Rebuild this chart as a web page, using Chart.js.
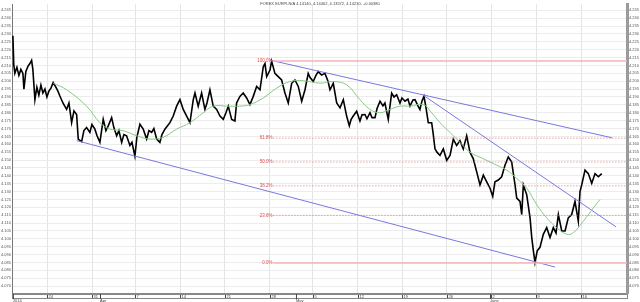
<!DOCTYPE html>
<html lang="en">
<head>
    <meta charset="UTF-8">
    <title>EURPLN Fibonacci</title>
    <script src="https://cdn.jsdelivr.net/npm/chart.js"></script>
    <style>
        body { margin: 0; background: #fff; }
        canvas { display: block; }
    </style>
</head>
<body>
    <canvas id="fxChart" width="640" height="302"></canvas>

    <script>
        // price path, x = trading days from start (18 Mar 2014)
        const days = [0.0,0.1,0.22,0.45,0.67,0.89,1.12,1.23,1.45,1.68,1.9,2.09,2.23,2.46,2.68,2.9,3.13,3.35,3.58,3.8,
            4.02,4.25,4.5,4.8,5.03,5.25,5.59,6.0,6.26,6.56,6.82,7.12,7.3,7.68,7.93,8.23,8.6,8.83,9.16,9.39,
            9.72,10.09,10.39,10.65,11.03,11.28,11.59,11.84,12.15,12.4,12.7,13.07,13.3,13.63,13.85,14.19,14.56,14.94,15.2,15.5,
            15.75,16.06,16.42,16.65,16.98,17.54,17.91,18.29,18.66,19.03,19.41,19.78,20.15,20.34,20.7,21.08,21.45,21.68,22.01,22.38,
            22.76,23.13,23.5,23.8,24.06,24.44,24.8,24.99,25.36,25.73,26.11,26.48,26.85,27.23,27.6,27.97,28.16,28.35,28.72,28.9,
            29.27,29.64,30.02,30.39,30.76,31.14,31.51,31.88,32.26,32.63,32.99,33.18,33.55,33.85,34.11,34.49,34.86,35.2,35.42,35.79,
            36.17,36.54,36.91,37.28,37.58,37.77,38.02,38.4,38.77,39.0,39.33,39.55,39.89,40.11,40.45,40.67,41.01,41.34,41.56,41.93,
            42.31,42.57,42.87,43.24,43.46,43.8,44.13,44.36,44.69,44.92,45.25,45.47,45.7,45.92,46.15,46.4,46.78,46.93,47.15,47.37,
            47.71,48.08,48.46,48.83,49.2,49.57,49.94,50.31,50.69,51.06,51.43,51.81,52.18,52.55,52.93,53.3,53.6,53.85,54.22,54.6,
            54.97,55.34,55.72,56.09,56.28,56.65,56.84,57.02,57.4,57.77,57.96,58.14,58.32,58.58,58.88,59.25,59.63,60.0,60.37,60.67,
            60.93,61.31,61.68,62.04,62.42,62.79,63.16,63.35,63.54,63.91,64.28,64.66,65.03,65.4,65.78];
        const prices = [4.2289,4.2102,4.2050,4.2088,4.2037,4.2075,4.2050,4.1950,4.2062,4.2094,4.2112,4.2133,4.2075,4.1883,4.1962,4.1912,4.1975,4.1925,4.1950,4.1900,
            4.1937,4.1956,4.1992,4.1962,4.1937,4.1906,4.1862,4.1821,4.1862,4.1737,4.1812,4.1789,4.1633,4.1617,4.1687,4.1706,4.1675,4.1725,4.1696,4.1656,
            4.1612,4.1758,4.1687,4.1717,4.1769,4.1706,4.1654,4.1687,4.1612,4.1662,4.1654,4.1592,4.1612,4.1525,4.1644,4.1727,4.1696,4.1633,4.1687,4.1675,
            4.1700,4.1633,4.1612,4.1662,4.1696,4.1737,4.1779,4.1842,4.1883,4.1821,4.1779,4.1737,4.1883,4.1925,4.1842,4.1925,4.1821,4.1862,4.1946,4.1842,
            4.1821,4.1779,4.1758,4.1800,4.1842,4.1758,4.1748,4.1862,4.1904,4.1925,4.1894,4.1852,4.1904,4.1967,4.1946,4.2092,4.2112,4.2029,4.2071,4.2128,
            4.2050,4.2029,4.2008,4.1925,4.1862,4.1987,4.2008,4.1967,4.1873,4.1946,4.2050,4.2025,4.1998,4.2037,4.2061,4.2039,4.2050,4.2000,4.1946,4.1987,
            4.1862,4.1831,4.1883,4.1779,4.1717,4.1756,4.1779,4.1810,4.1748,4.1787,4.1789,4.1762,4.1800,4.1769,4.1769,4.1825,4.1873,4.1844,4.1862,4.1758,
            4.1925,4.1900,4.1914,4.1862,4.1894,4.1873,4.1887,4.1842,4.1881,4.1883,4.1844,4.1821,4.1875,4.1904,4.1831,4.1737,4.1737,4.1675,4.1571,4.1550,
            4.1529,4.1571,4.1498,4.1529,4.1633,4.1592,4.1623,4.1571,4.1654,4.1550,4.1508,4.1425,4.1342,4.1404,4.1362,4.1321,4.1269,4.1362,4.1373,4.1394,
            4.1467,4.1519,4.1487,4.1342,4.1258,4.1237,4.1154,4.1342,4.1279,4.1133,4.1008,4.0925,4.0850,4.0925,4.0946,4.1029,4.1071,4.1008,4.1071,4.1037,
            4.1154,4.1050,4.1050,4.1133,4.1154,4.1237,4.1112,4.1300,4.1342,4.1436,4.1414,4.1352,4.1414,4.1394,4.1414];

        // green moving average
        const maDays = [4.5,6.0,8.23,9.72,10.84,12.32,13.82,15.31,16.79,18.29,19.78,21.26,22.38,23.88,25.36,26.48,27.97,29.46,30.95,32.44,
            34.3,35.79,37.28,38.77,39.89,41.01,42.12,43.24,44.36,45.84,46.78,47.71,48.83,49.94,51.06,52.55,54.04,55.16,56.28,57.4,
            58.51,59.63,60.75,61.87,62.6,63.72,64.84,65.59];
        const maPrices = [4.1988,4.1946,4.1842,4.1737,4.1696,4.1686,4.1654,4.1633,4.1644,4.1696,4.1737,4.1800,4.1842,4.1842,4.1842,4.1852,4.1894,4.1956,4.1998,4.2003,
            4.1988,4.1998,4.1977,4.1883,4.1821,4.1800,4.1821,4.1842,4.1842,4.1852,4.1800,4.1737,4.1675,4.1612,4.1550,4.1508,4.1467,4.1436,4.1383,4.1321,
            4.1217,4.1133,4.1071,4.1029,4.1039,4.1112,4.1196,4.1250];

        // trend lines
        const upperTrendDays = [28.72, 66.93];
        const upperTrendPrices = [4.2134, 4.1641];
        const lowerTrendDays = [7.12, 60.56];
        const lowerTrendPrices = [4.1623, 4.0821];
        const innerTrendDays = [45.92, 67.37];
        const innerTrendPrices = [4.1908, 4.1076];

        // fibonacci retracement
        const fibHigh = 4.2129;
        const fibLow = 4.0846;
        const fibRatios = [1, 0.618, 0.5, 0.382, 0.236, 0];
        const fibLabels = ["100.0%", "61.8%", "50.0%", "38.2%", "23.6%", "0.0%"];
        const fibFromDay = 29.1;

        // axis ticks
        const weekDays = [3.81, 8.84, 13.64, 18.67, 23.69, 28.72, 33.52, 38.55, 43.47, 48.49, 53.41, 58.44, 63.47];
        const weekLabels = ["24", "31", "7", "14", "21", "28", "5", "12", "19", "26", "2", "9", "16"];
        const monthDays = [0, 9.73, 31.62, 53.3];
        const monthLabels = ["2014", "Apr", "May", "June"];
        const titleText = "FOREX EURPLN/A 4.14140, 4.14462, 4.13572, 4.14230, +0.00380";

        const xMin = -0.1, xMax = 68.6;
        const yMin = 4.06563, yMax = 4.24875;

        function pts(xs, ys) { return xs.map((x, i) => ({ x: x, y: ys[i] })); }

        const datasets = [];
        fibRatios.forEach((r, i) => {
            const lvl = fibLow + r * (fibHigh - fibLow);
            const solid = (r === 0 || r === 1);
            datasets.push({
                data: [{ x: fibFromDay, y: lvl }, { x: xMax, y: lvl }],
                borderColor: solid ? "#f5b3b3" : "#e27272",
                borderWidth: solid ? 1.5 : 1,
                borderDash: solid ? [] : [1, 2],
                pointRadius: 0
            });
        });
        datasets.push({ data: pts(maDays, maPrices), borderColor: "#86c886", borderWidth: 1, pointRadius: 0, tension: 0.4 });
        [[upperTrendDays, upperTrendPrices], [lowerTrendDays, lowerTrendPrices], [innerTrendDays, innerTrendPrices]].forEach(t => {
            datasets.push({ data: pts(t[0], t[1]), borderColor: "#7878de", borderWidth: 1, pointRadius: 0 });
        });
        datasets.push({ data: pts(days, prices), borderColor: "#000", borderWidth: 1.6, pointRadius: 0 });

        const overlay = {
            id: "overlay",
            afterDraw(chart) {
                const ctx = chart.ctx, xs = chart.scales.x, ys = chart.scales.y;
                ctx.save();
                ctx.font = "4px Arial";
                ctx.fillStyle = "#444";
                ctx.textAlign = "center";
                ctx.textBaseline = "middle";
                ctx.fillText(titleText, 320, 4);
                // fib labels
                ctx.fillStyle = "#e04848";
                ctx.font = "4.5px Arial";
                ctx.textAlign = "right";
                fibRatios.forEach((r, i) => {
                    const lvl = fibLow + r * (fibHigh - fibLow);
                    ctx.fillText(fibLabels[i], xs.getPixelForValue(fibFromDay) - 1, ys.getPixelForValue(lvl));
                });
                // date band
                const b = chart.chartArea.bottom;
                ctx.strokeStyle = "#888";
                ctx.lineWidth = 1;
                ctx.strokeRect(chart.chartArea.left + 0.5, b + 1.5, chart.chartArea.right - chart.chartArea.left, 4);
                ctx.fillStyle = "#444";
                ctx.font = "4px Arial";
                ctx.textAlign = "left";
                monthDays.forEach((d, i) => {
                    const px = xs.getPixelForValue(d);
                    ctx.fillRect(px, b + 1, 1, 5);
                    ctx.fillText(monthLabels[i], px, b + 8);
                });
                weekDays.forEach((d, i) => {
                    const px = xs.getPixelForValue(d);
                    ctx.fillRect(px, b + 2, 1, 3);
                    ctx.fillText(weekLabels[i], px + 1.5, b + 3.5);
                });
                ctx.restore();
            }
        };

        function priceTicks(s) {
            const t = [];
            for (let v = 4.070; v < yMax; v += 0.005) t.push({ value: +v.toFixed(3) });
            s.ticks = t;
        }

        new Chart(document.getElementById("fxChart").getContext("2d"), {
            type: "line",
            data: { datasets: datasets },
            options: {
                responsive: false,
                animation: false,
                layout: { padding: 0 },
                plugins: { legend: { display: false }, tooltip: { enabled: false } },
                scales: {
                    x: {
                        type: "linear", min: xMin, max: xMax,
                        afterBuildTicks: s => { s.ticks = weekDays.map(v => ({ value: v })); },
                        afterFit: s => { s.height = 9; },
                        ticks: { display: false },
                        grid: { color: "#e4e4e4", drawTicks: false },
                        border: { color: "#888" }
                    },
                    y: {
                        position: "left", min: yMin, max: yMax,
                        afterBuildTicks: priceTicks,
                        afterFit: s => { s.width = 12; },
                        ticks: { font: { size: 4 }, color: "#555", padding: 1, autoSkip: false, callback: v => v.toFixed(3) },
                        grid: { color: "#ececec", drawTicks: false, tickLength: 0 },
                        border: { color: "#777" }
                    },
                    y2: {
                        position: "right", min: yMin, max: yMax,
                        afterBuildTicks: priceTicks,
                        afterFit: s => { s.width = 13; },
                        ticks: { font: { size: 4 }, color: "#555", padding: 2, autoSkip: false, callback: v => v.toFixed(3) },
                        grid: { display: false, drawTicks: false, tickLength: 0 },
                        border: { color: "#9a9a9a", width: 3 }
                    }
                }
            },
            plugins: [overlay]
        });
    </script>
</body>
</html>
